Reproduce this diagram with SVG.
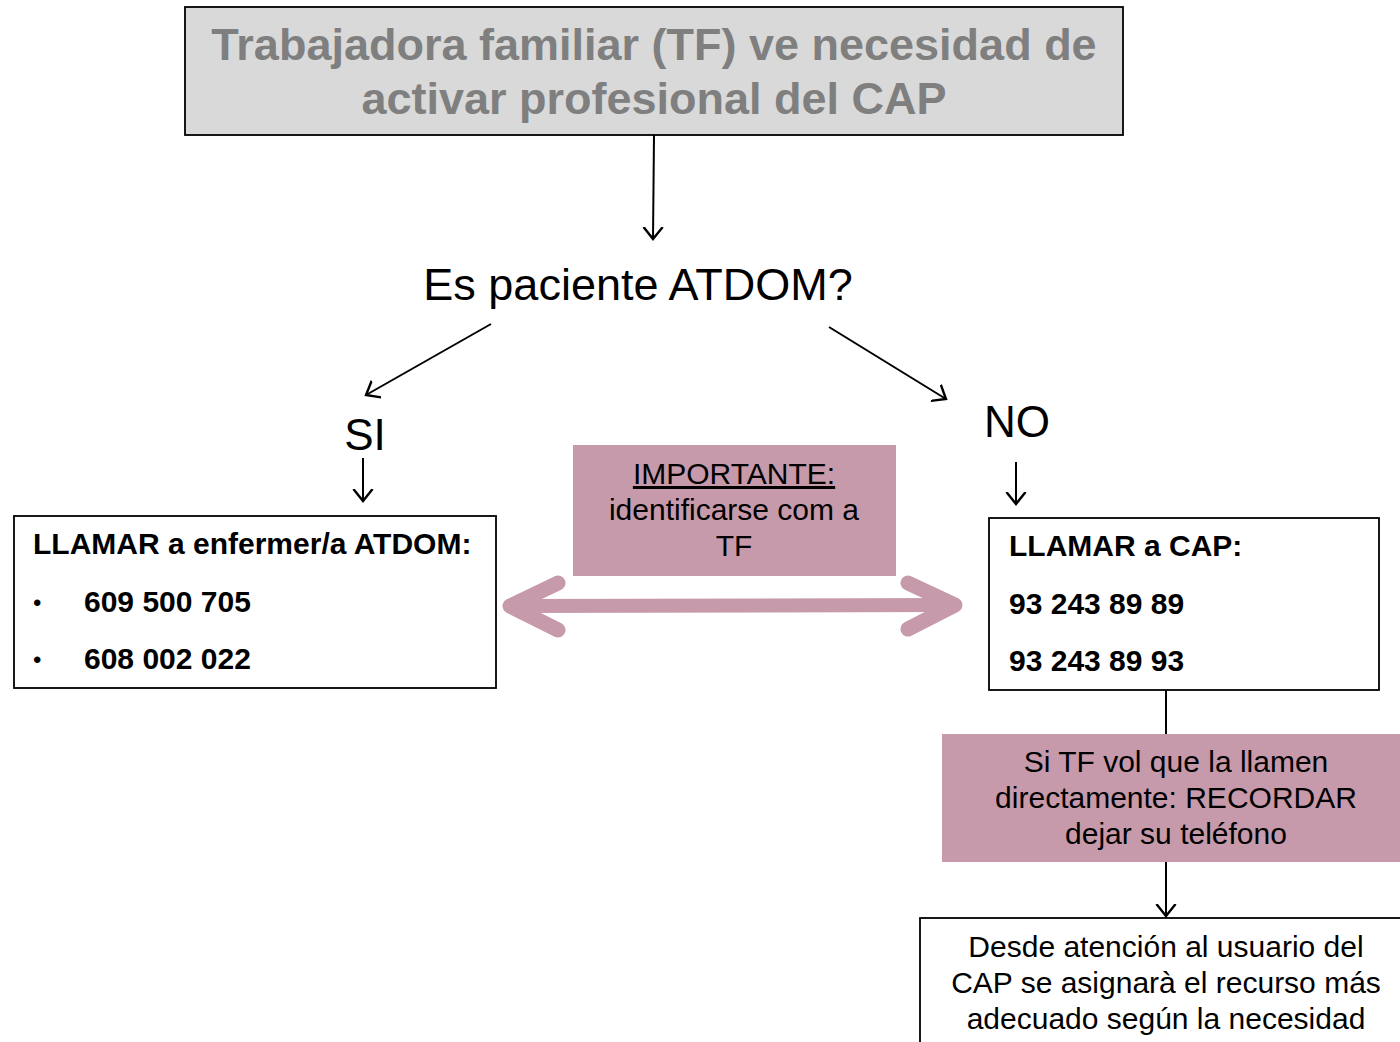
<svg xmlns="http://www.w3.org/2000/svg" width="1400" height="1042" viewBox="0 0 1400 1042">
<style>
  .t { font-family: "Liberation Sans", Arial, sans-serif; fill: #000; }
  .box { fill: #fff; stroke: #000; stroke-width: 1.8; }
  .pink { fill: #c69aab; }
  .conn { stroke: #000; stroke-width: 2; fill: none; }
</style>
<defs>
  <marker id="open" viewBox="0 0 20 20" refX="10" refY="10" markerWidth="24" markerHeight="24" markerUnits="userSpaceOnUse" orient="auto">
    <path d="M0,2 L10,10 L0,18" fill="none" stroke="#000" stroke-width="2"/>
  </marker>
</defs>
<rect width="1400" height="1042" fill="#fff"/>

<g id="node-top">
  <rect x="185" y="7" width="938" height="128" fill="#d9d9d9" stroke="#000" stroke-width="1.8"/>
  <text class="t" x="654" y="60" text-anchor="middle" font-size="45" font-weight="bold" style="fill:#7f7f7f">Trabajadora familiar (TF) ve necesidad de</text>
  <text class="t" x="654" y="114" text-anchor="middle" font-size="45" font-weight="bold" style="fill:#7f7f7f">activar profesional del CAP</text>
</g>

<g id="node-question">
  <text class="t" x="638" y="300" text-anchor="middle" font-size="45">Es paciente ATDOM?</text>
</g>

<g id="node-si">
  <text class="t" x="365" y="450" text-anchor="middle" font-size="44">SI</text>
</g>

<g id="node-no">
  <text class="t" x="1017" y="437" text-anchor="middle" font-size="44">NO</text>
</g>

<g id="node-left">
  <rect class="box" x="14" y="516" width="482" height="172"/>
  <text class="t" x="33" y="554" font-size="30" font-weight="bold">LLAMAR  a enfermer/a ATDOM:</text>
  <text class="t" x="33" y="611" font-size="24">•</text>
  <text class="t" x="84" y="612" font-size="30" font-weight="bold">609 500 705</text>
  <text class="t" x="33" y="668" font-size="24">•</text>
  <text class="t" x="84" y="669" font-size="30" font-weight="bold">608 002 022</text>
</g>

<g id="node-important">
  <rect class="pink" x="573" y="445" width="323" height="131"/>
  <text class="t" x="734" y="484" text-anchor="middle" font-size="30" text-decoration="underline">IMPORTANTE:</text>
  <text class="t" x="734" y="520" text-anchor="middle" font-size="30">identificarse com a</text>
  <text class="t" x="734" y="556" text-anchor="middle" font-size="30">TF</text>
</g>

<g id="node-right">
  <rect class="box" x="989" y="518" width="390" height="172"/>
  <text class="t" x="1009" y="556" font-size="30" font-weight="bold">LLAMAR a CAP:</text>
  <text class="t" x="1009" y="614" font-size="30" font-weight="bold">93 243 89 89</text>
  <text class="t" x="1009" y="671" font-size="30" font-weight="bold">93 243 89 93</text>
</g>

<g id="node-recordar">
  <rect class="pink" x="942" y="734" width="470" height="128"/>
  <text class="t" x="1176" y="772" text-anchor="middle" font-size="30">Si TF vol que la llamen</text>
  <text class="t" x="1176" y="808" text-anchor="middle" font-size="30">directamente: RECORDAR</text>
  <text class="t" x="1176" y="844" text-anchor="middle" font-size="30">dejar su teléfono</text>
</g>

<g id="node-bottom">
  <rect class="box" x="920" y="918" width="500" height="140"/>
  <text class="t" x="1166" y="957" text-anchor="middle" font-size="30">Desde atención al usuario del</text>
  <text class="t" x="1166" y="993" text-anchor="middle" font-size="30">CAP se asignarà el recurso más</text>
  <text class="t" x="1166" y="1029" text-anchor="middle" font-size="30">adecuado según la necesidad</text>
</g>

<g id="connectors">
  <line class="conn" x1="654" y1="135" x2="653" y2="239" marker-end="url(#open)"/>
  <line class="conn" x1="491" y1="324" x2="366" y2="395" marker-end="url(#open)"/>
  <line class="conn" x1="829" y1="327" x2="946" y2="399" marker-end="url(#open)"/>
  <line class="conn" x1="363" y1="458" x2="363" y2="501" marker-end="url(#open)"/>
  <line class="conn" x1="1016" y1="462" x2="1016" y2="504" marker-end="url(#open)"/>
  <line class="conn" x1="1166" y1="690" x2="1166" y2="734"/>
  <line class="conn" x1="1166" y1="862" x2="1166" y2="916" marker-end="url(#open)"/>
  <g id="double-arrow" stroke="#c69aab" fill="none" stroke-linecap="round" stroke-linejoin="round">
    <line x1="515" y1="606" x2="950" y2="605" stroke-width="14"/>
    <polygon points="503,606 518,597 518,615" fill="#c69aab" stroke="none"/>
    <polygon points="962,605 947,596 947,614" fill="#c69aab" stroke="none"/>
    <polyline points="558,583 510,606 558,630" stroke-width="15"/>
    <polyline points="908,583 955,605 908,629" stroke-width="15"/>
  </g>
</g>
</svg>
